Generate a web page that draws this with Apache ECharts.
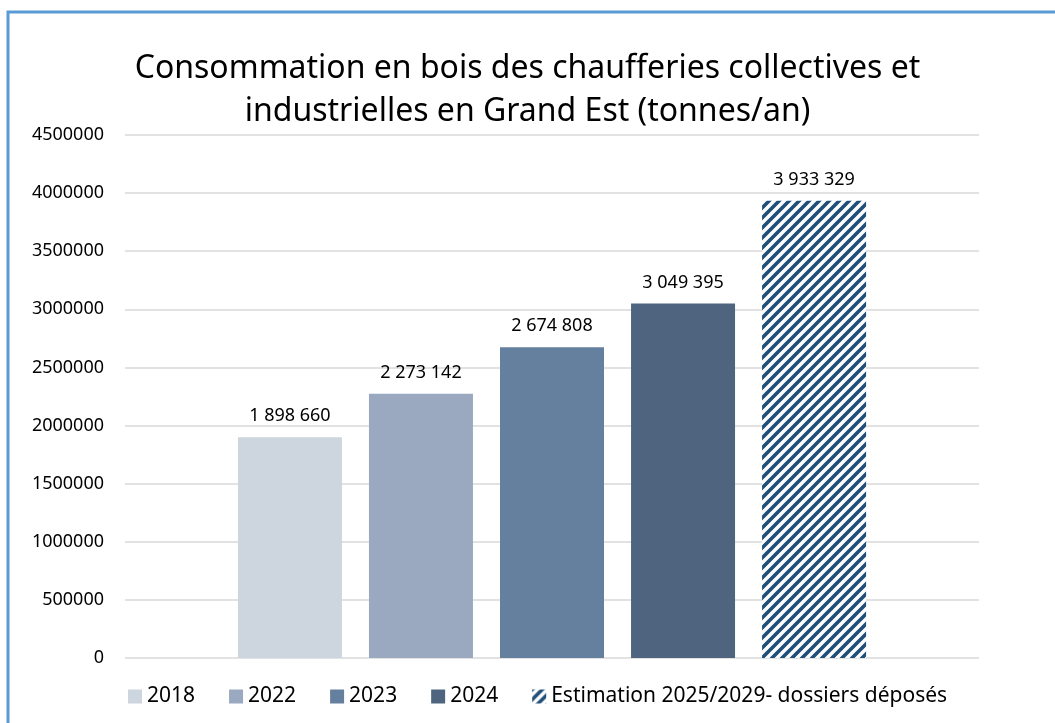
<!DOCTYPE html>
<html><head><meta charset="utf-8">
<script src="https://cdn.jsdelivr.net/npm/echarts@6/dist/echarts.min.js"></script>
<style>html,body{margin:0;padding:0;background:#fff}#c{width:1055px;height:723px}</style>
</head><body><div id="c"></div>
<script>
const seriesNames = ['2018', '2022', '2023', '2024', 'Estimation 2025/2029- dossiers déposés'];
const seriesValues = [1898660, 2273142, 2674808, 3049395, 3933329];
const yTicks = [0, 500000, 1000000, 1500000, 2000000, 2500000, 3000000, 3500000, 4000000, 4500000];
const colors = ['#CDD5DF', '#9AA9C0', '#657F9F', '#4F657F'];

const tile = document.createElement('canvas');
tile.width = 10; tile.height = 10;
const g = tile.getContext('2d');
g.fillStyle = '#fff'; g.fillRect(0,0,10,10);
g.strokeStyle = '#1F4E79'; g.lineWidth = 3.6;
g.beginPath();
g.moveTo(-2,12); g.lineTo(12,-2);
g.moveTo(-7,7); g.lineTo(7,-7);
g.moveTo(3,17); g.lineTo(17,3);
g.stroke();

const fmt = v => String(v).replace(/\B(?=(\d{3})+(?!\d))/g, ' ');
const font = '"Noto Sans", sans-serif';

const chart = echarts.init(document.getElementById('c'));
chart.setOption({
  animation: false,
  textStyle: {fontFamily: font},
  title: {
    text: 'Consommation en bois des chaufferies collectives et\nindustrielles en Grand Est (tonnes/an)',
    left: 'center', top: 42,
    textStyle: {fontFamily: font, fontSize: 32, fontWeight: 'normal', color: '#000', lineHeight: 43}
  },
  graphic: [{type: 'rect', shape: {x: 8, y: 12, width: 1200, height: 900}, style: {fill: 'none', stroke: '#5B9BD5', lineWidth: 3}, silent: true}],
  legend: {
    top: 686, left: 128, padding: 0, itemWidth: 14, itemHeight: 14, itemGap: 34,
    textStyle: {fontFamily: font, fontSize: 21, color: '#000'},
    data: seriesNames.map(n => ({name: n, icon: 'rect'}))
  },
  grid: {left: 125, right: 76, top: 135, bottom: 65},
  xAxis: {type: 'category', data: [''], axisLine: {show: false}, axisTick: {show: false}, axisLabel: {show: false}},
  yAxis: {
    type: 'value', min: yTicks[0], max: yTicks[yTicks.length-1], interval: 500000,
    axisLine: {show: false}, axisTick: {show: false},
    axisLabel: {fontFamily: font, fontSize: 18, color: '#000', margin: 21, formatter: v => String(v)},
    splitLine: {lineStyle: {color: '#D9D9D9', width: 1.5}}
  },
  series: seriesNames.map((n, i) => ({
    name: n, type: 'bar', barWidth: 104, barGap: '26%',
    data: [seriesValues[i]],
    itemStyle: {color: i < 4 ? colors[i] : {image: tile, repeat: 'repeat'}},
    label: {show: true, position: 'top', distance: 12, fontFamily: font, fontSize: 18, color: '#000', formatter: p => fmt(p.value)}
  }))
});
</script></body></html>
